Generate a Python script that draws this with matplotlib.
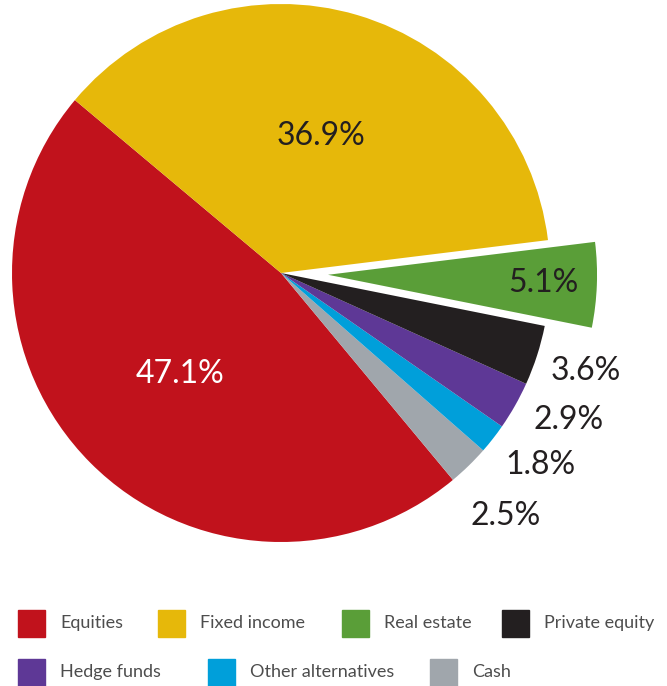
import numpy as np
import matplotlib.pyplot as plt
from matplotlib.patches import Rectangle

plt.rcParams['font.family'] = ['Lato', 'DejaVu Sans']

# slices in drawing order (counter-clockwise from the red/yellow border)
labels = ['Equities', 'Cash', 'Other alternatives', 'Hedge funds',
          'Private equity', 'Real estate', 'Fixed income']
values = [47.1, 2.5, 1.8, 2.9, 3.6, 5.1, 36.9]
pct_text = ['47.1%', '2.5%', '1.8%', '2.9%', '3.6%', '5.1%', '36.9%']
colors = ['#C1121C', '#A0A6AC', '#009FDA', '#5E3896',
          '#231F20', '#5A9E38', '#E6B80A']

W, H = 667, 686
fig = plt.figure(figsize=(W / 100, H / 100), dpi=100)

R = 269.0
cx, cy = 281.0, H - 273.0
half = 1.25 * R
ax = fig.add_axes([(cx - half) / W, (cy - half) / H, 2 * half / W, 2 * half / H])

explode = [0.175 if l == 'Real estate' else 0 for l in labels]
wedges, _ = ax.pie(values, colors=colors, startangle=140, counterclock=True,
                   explode=explode, wedgeprops=dict(linewidth=0))
ax.set_xlim(-1.25, 1.25)
ax.set_ylim(-1.25, 1.25)

# label radius and small angle nudge per slice
lab_r = {'Equities': 0.53, 'Fixed income': 0.53, 'Real estate': 0.8,
         'Cash': 1.23, 'Other alternatives': 1.2, 'Hedge funds': 1.2,
         'Private equity': 1.19}
lab_da = {'Cash': -1.5, 'Other alternatives': 1.5, 'Hedge funds': 2.5}
for w, l, t in zip(wedges, labels, pct_text):
    ang = np.deg2rad((w.theta1 + w.theta2) / 2 + lab_da.get(l, 0))
    x0, y0 = w.center
    r = lab_r[l]
    col = 'white' if l == 'Equities' else '#231F20'
    ax.text(x0 + r * np.cos(ang), y0 + r * np.sin(ang), t, ha='center',
            va='center', fontsize=23, color=col)

# legend laid out like the original, flowing left to right
col_map = dict(zip(labels, colors))
rows = [[('Equities', 18), ('Fixed income', 158), ('Real estate', 342), ('Private equity', 502)],
        [('Hedge funds', 18), ('Other alternatives', 208), ('Cash', 430)]]
row_y = [623, 672]
sq = 27
for row, yy in zip(rows, row_y):
    for name, xx in row:
        fig.patches.append(Rectangle((xx / W, (H - yy - sq / 2) / H), sq / W, sq / H,
                                     transform=fig.transFigure, color=col_map[name]))
        fig.text((xx + sq + 15) / W, (H - yy) / H, name, ha='left', va='center',
                 fontsize=13, color='#4D4D4D')

fig.savefig('out.png', dpi=100)
